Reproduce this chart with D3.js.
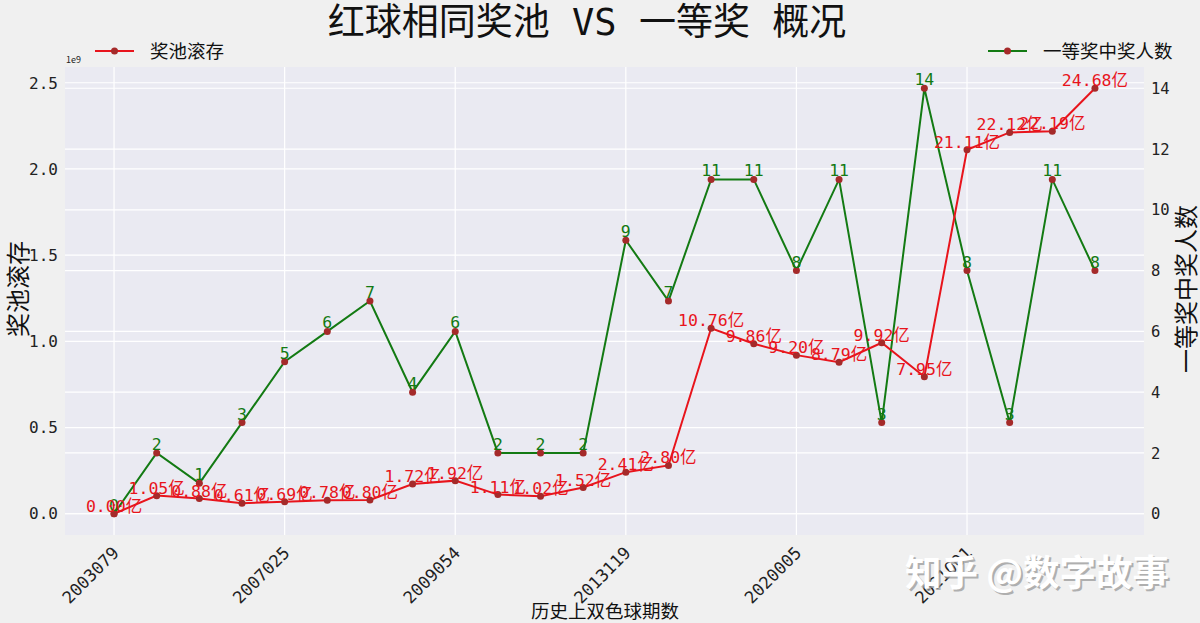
<!DOCTYPE html>
<html><head><meta charset="utf-8">
<script src="https://cdn.jsdelivr.net/npm/d3@7"></script>
<style>
html,body{margin:0;padding:0;background:#f0f0f0;}
svg{display:block;font-family:"Noto Sans CJK SC","DejaVu Sans",sans-serif;}
.mono{font-family:"DejaVu Sans Mono","Noto Sans CJK SC",monospace;}
</style></head>
<body><svg id="c" width="1200" height="623"></svg>
<script>
const periods = ["2003079","2003???","2005???","2006???","2007025","2007???","2008???","2009???","2009054","2010???","2011???","2012???","2013119","2014???","2015???","2016???","2020005","2020???","2020???","2020???","2021001","2021???","2021???","2021???"];
const poolYi = [0.00,1.05,0.88,0.61,0.69,0.78,0.80,1.72,1.92,1.11,1.02,1.52,2.41,2.80,10.76,9.86,9.20,8.79,9.92,7.95,21.11,22.12,22.19,24.68];
const winners = [0,2,1,3,5,6,7,4,6,2,2,2,9,7,11,11,8,11,3,14,8,3,11,8];
const tickIdx = [0,4,8,12,16,20];
const tickLabels = ["2003079","2007025","2009054","2013119","2020005","2021001"];
const leftTicks = [0,0.5,1.0,1.5,2.0,2.5];
const rightTicks = [0,2,4,6,8,10,12,14];

const svg = d3.select("#c");
const L=65,R=1144,T=67,B=535;
const n = poolYi.length;
const pad = (n-1)*0.05;
const x = d3.scaleLinear().domain([-pad, n-1+pad]).range([L,R]);
const poolMax = d3.max(poolYi)/10;
const yl = d3.scaleLinear().domain([-poolMax*0.05, poolMax*1.05]).range([B,T]);
const wMax = d3.max(winners);
const yr = d3.scaleLinear().domain([-wMax*0.05, wMax*1.05]).range([B,T]);

svg.append("rect").attr("width",1200).attr("height",623).attr("fill","#f0f0f0");
svg.append("rect").attr("x",L).attr("y",T).attr("width",R-L).attr("height",B-T).attr("fill","#eaeaf2");

const g = svg.append("g");
g.selectAll(".gl").data(leftTicks).join("line").attr("x1",L).attr("x2",R)
 .attr("y1",d=>yl(d)).attr("y2",d=>yl(d)).attr("stroke","#fff").attr("stroke-width",1.2);
g.selectAll(".gr").data(rightTicks).join("line").attr("x1",L).attr("x2",R)
 .attr("y1",d=>yr(d)).attr("y2",d=>yr(d)).attr("stroke","#fff").attr("stroke-width",1.2);
g.selectAll(".gv").data(tickIdx).join("line").attr("y1",T).attr("y2",B)
 .attr("x1",d=>x(d)).attr("x2",d=>x(d)).attr("stroke","#fff").attr("stroke-width",1.2);

const fmt = d3.format(".1f");
svg.append("g").attr("class","mono").selectAll("text").data(leftTicks).join("text")
 .attr("x",L-7).attr("y",d=>yl(d)).attr("dy","0.36em").attr("text-anchor","end")
 .attr("font-size",16).attr("fill","#222").text(d=>fmt(d));
svg.append("text").attr("x",L+1).attr("y",T-4).attr("font-size",9).attr("fill","#222").text("1e9");
svg.append("g").attr("class","mono").selectAll("text").data(rightTicks).join("text")
 .attr("x",R+7).attr("y",d=>yr(d)).attr("dy","0.36em").attr("text-anchor","start")
 .attr("font-size",15.5).attr("fill","#222").text(d=>d);
svg.append("g").attr("class","mono").selectAll("text").data(tickIdx).join("text")
 .attr("transform",(d)=>`translate(${x(d)-3},${B+10}) rotate(-45)`)
 .attr("text-anchor","end").attr("dy","0.75em").attr("font-size",17).attr("fill","#222")
 .text((d,i)=>tickLabels[i]);

svg.append("text").attr("transform",`translate(27,289) rotate(-90)`).attr("text-anchor","middle")
 .attr("font-size",24).attr("fill","#111").text("奖池滚存");
svg.append("text").attr("transform",`translate(1195,289) rotate(-90)`).attr("text-anchor","middle")
 .attr("font-size",24).attr("fill","#111").text("一等奖中奖人数");
svg.append("text").attr("x",605).attr("y",618).attr("text-anchor","middle")
 .attr("font-size",18.5).attr("fill","#111").text("历史上双色球期数");
const title = svg.append("text").attr("x",587).attr("y",35).attr("text-anchor","middle")
 .attr("font-size",37).attr("fill","#111");
title.append("tspan").text("红球相同奖池");
title.append("tspan").attr("class","mono").text(" VS ");
title.append("tspan").text("一等奖");
title.append("tspan").attr("class","mono").text(" ");
title.append("tspan").text("概况");

const RED="#e8141c", GREEN="#137a13", MK="#a52a2a";
const lineR = d3.line().x((d,i)=>x(i)).y(d=>yl(d/10));
const lineG = d3.line().x((d,i)=>x(i)).y(d=>yr(d));
svg.append("path").attr("d",lineG(winners)).attr("fill","none").attr("stroke",GREEN).attr("stroke-width",2);
svg.append("path").attr("d",lineR(poolYi)).attr("fill","none").attr("stroke",RED).attr("stroke-width",2);
svg.append("g").selectAll("circle").data(winners).join("circle")
 .attr("cx",(d,i)=>x(i)).attr("cy",d=>yr(d)).attr("r",3.5).attr("fill",MK);
svg.append("g").selectAll("circle").data(poolYi).join("circle")
 .attr("cx",(d,i)=>x(i)).attr("cy",d=>yl(d/10)).attr("r",3.5).attr("fill",MK);

svg.append("g").attr("class","mono").selectAll("text").data(winners).join("text")
 .attr("x",(d,i)=>x(i)).attr("y",d=>yr(d)-3).attr("text-anchor","middle")
 .attr("font-size",16.5).attr("fill",GREEN).text(d=>d);
svg.append("g").attr("class","mono").selectAll("text").data(poolYi).join("text")
 .attr("x",(d,i)=>x(i)).attr("y",d=>yl(d/10)-2).attr("text-anchor","middle")
 .attr("font-size",16.5).attr("fill",RED).text(d=>d.toFixed(2)+"亿");

function legend(x0,label,color){
  const lg = svg.append("g");
  lg.append("line").attr("x1",x0).attr("x2",x0+39).attr("y1",51).attr("y2",51).attr("stroke",color).attr("stroke-width",2);
  lg.append("circle").attr("cx",x0+19.5).attr("cy",51).attr("r",3.5).attr("fill",MK);
  lg.append("text").attr("x",x0+55).attr("y",51).attr("dy","0.36em").attr("font-size",18.5).attr("fill","#111").text(label);
}
legend(95,"奖池滚存",RED);
legend(988,"一等奖中奖人数",GREEN);

svg.append("text").attr("x",907).attr("y",588).attr("font-size",36.5).attr("font-weight","bold").attr("fill","#9a9a9a").attr("opacity",0.75).text("知乎 @数字故事");
svg.append("text").attr("x",905).attr("y",586).attr("font-size",36.5).attr("font-weight","bold").attr("fill","#fff").text("知乎 @数字故事");
</script></body></html>
